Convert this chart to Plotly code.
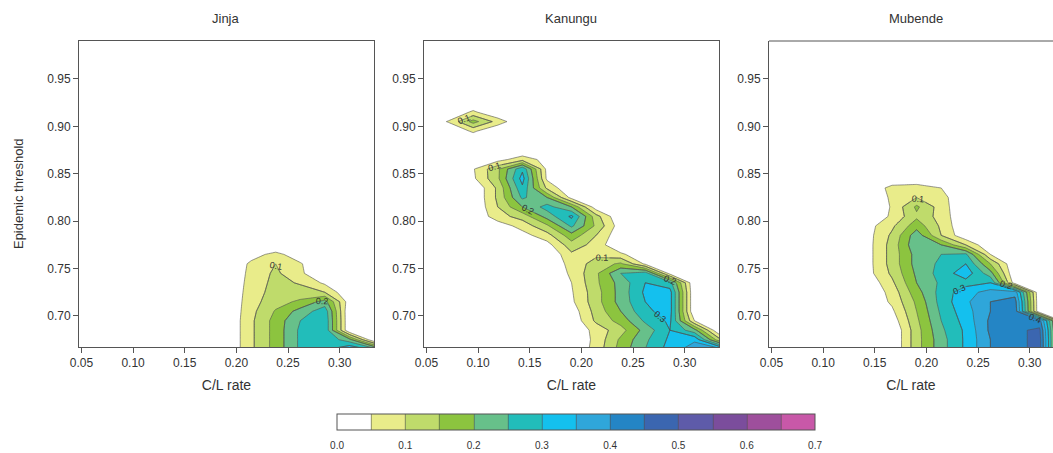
import plotly.graph_objects as go

# ---------------- data ----------------
panel_names = ["Jinja", "Kanungu", "Mubende"]

x_cl = [0.0476, 0.0714, 0.0952, 0.1190, 0.1429, 0.1667, 0.1905,
        0.2143, 0.2381, 0.2619, 0.2857, 0.3095, 0.3333]

y_thr = [0.665, 0.675, 0.685, 0.695, 0.705, 0.715, 0.725, 0.735, 0.745,
         0.755, 0.765, 0.775, 0.785, 0.795, 0.805, 0.815, 0.825, 0.835,
         0.845, 0.855, 0.865, 0.875, 0.885, 0.895, 0.905, 0.915, 0.925,
         0.935, 0.945, 0.955, 0.965, 0.975, 0.985, 0.995]

jinja_z = [
    [0, 0, 0, 0, 0, 0, 0, 0.09, 0.17, 0.26, 0.29, 0.35, 0.28],
    [0, 0, 0, 0, 0, 0, 0, 0.09, 0.17, 0.26, 0.29, 0.22, 0],
    [0, 0, 0, 0, 0, 0, 0, 0.09, 0.17, 0.26, 0.29, 0, 0],
    [0, 0, 0, 0, 0, 0, 0, 0.09, 0.17, 0.25, 0.29, 0, 0],
    [0, 0, 0, 0, 0, 0, 0, 0.085, 0.155, 0.22, 0.28, 0, 0],
    [0, 0, 0, 0, 0, 0, 0, 0.08, 0.13, 0.16, 0.22, 0.02, 0],
    [0, 0, 0, 0, 0, 0, 0, 0.075, 0.12, 0.12, 0.10, 0, 0],
    [0, 0, 0, 0, 0, 0, 0, 0.07, 0.115, 0.095, 0.04, 0, 0],
    [0, 0, 0, 0, 0, 0, 0, 0.065, 0.11, 0.06, 0, 0, 0],
    [0, 0, 0, 0, 0, 0, 0, 0.06, 0.10, 0.055, 0, 0, 0],
    [0, 0, 0, 0, 0, 0, 0, 0.03, 0.065, 0.02, 0, 0, 0],
    [0, 0, 0, 0, 0, 0, 0, 0, 0, 0, 0, 0, 0],
    [0, 0, 0, 0, 0, 0, 0, 0, 0, 0, 0, 0, 0],
    [0, 0, 0, 0, 0, 0, 0, 0, 0, 0, 0, 0, 0],
    [0, 0, 0, 0, 0, 0, 0, 0, 0, 0, 0, 0, 0],
    [0, 0, 0, 0, 0, 0, 0, 0, 0, 0, 0, 0, 0],
    [0, 0, 0, 0, 0, 0, 0, 0, 0, 0, 0, 0, 0],
    [0, 0, 0, 0, 0, 0, 0, 0, 0, 0, 0, 0, 0],
    [0, 0, 0, 0, 0, 0, 0, 0, 0, 0, 0, 0, 0],
    [0, 0, 0, 0, 0, 0, 0, 0, 0, 0, 0, 0, 0],
    [0, 0, 0, 0, 0, 0, 0, 0, 0, 0, 0, 0, 0],
    [0, 0, 0, 0, 0, 0, 0, 0, 0, 0, 0, 0, 0],
    [0, 0, 0, 0, 0, 0, 0, 0, 0, 0, 0, 0, 0],
    [0, 0, 0, 0, 0, 0, 0, 0, 0, 0, 0, 0, 0],
    [0, 0, 0, 0, 0, 0, 0, 0, 0, 0, 0, 0, 0],
    [0, 0, 0, 0, 0, 0, 0, 0, 0, 0, 0, 0, 0],
    [0, 0, 0, 0, 0, 0, 0, 0, 0, 0, 0, 0, 0],
    [0, 0, 0, 0, 0, 0, 0, 0, 0, 0, 0, 0, 0],
    [0, 0, 0, 0, 0, 0, 0, 0, 0, 0, 0, 0, 0],
    [0, 0, 0, 0, 0, 0, 0, 0, 0, 0, 0, 0, 0],
    [0, 0, 0, 0, 0, 0, 0, 0, 0, 0, 0, 0, 0],
    [0, 0, 0, 0, 0, 0, 0, 0, 0, 0, 0, 0, 0],
    [0, 0, 0, 0, 0, 0, 0, 0, 0, 0, 0, 0, 0],
    [0, 0, 0, 0, 0, 0, 0, 0, 0, 0, 0, 0, 0],
]

kanungu_z = [
    [0, 0, 0, 0, 0, 0, 0, 0.07, 0.17, 0.25, 0.32, 0.38, 0.38],
    [0, 0, 0, 0, 0, 0, 0, 0.065, 0.16, 0.24, 0.31, 0.34, 0.12],
    [0, 0, 0, 0, 0, 0, 0, 0.07, 0.13, 0.22, 0.30, 0.22, 0],
    [0, 0, 0, 0, 0, 0, 0.01, 0.11, 0.17, 0.26, 0.31, 0.05, 0],
    [0, 0, 0, 0, 0, 0, 0.02, 0.12, 0.20, 0.29, 0.32, 0, 0],
    [0, 0, 0, 0, 0, 0, 0.04, 0.13, 0.22, 0.30, 0.32, 0, 0],
    [0, 0, 0, 0, 0, 0, 0.045, 0.13, 0.22, 0.31, 0.32, 0, 0],
    [0, 0, 0, 0, 0, 0, 0.05, 0.14, 0.22, 0.30, 0.27, 0, 0],
    [0, 0, 0, 0, 0, 0, 0.06, 0.14, 0.25, 0.28, 0.03, 0, 0],
    [0, 0, 0, 0, 0, 0, 0.07, 0.12, 0.16, 0.04, 0, 0, 0],
    [0, 0, 0, 0, 0, 0, 0.09, 0.09, 0.06, 0.01, 0, 0, 0],
    [0, 0, 0, 0, 0, 0.03, 0.13, 0.08, 0, 0, 0, 0, 0],
    [0, 0, 0, 0, 0.03, 0.08, 0.18, 0.10, 0.01, 0, 0, 0, 0],
    [0, 0, 0, 0.02, 0.07, 0.14, 0.26, 0.14, 0.02, 0, 0, 0, 0],
    [0, 0, 0, 0.08, 0.12, 0.22, 0.31, 0.12, 0, 0, 0, 0, 0],
    [0, 0, 0, 0.10, 0.20, 0.27, 0.20, 0.02, 0, 0, 0, 0, 0],
    [0, 0, 0, 0.11, 0.26, 0.20, 0.03, 0, 0, 0, 0, 0, 0],
    [0, 0, 0, 0.11, 0.29, 0.09, 0, 0, 0, 0, 0, 0, 0],
    [0, 0, 0.04, 0.14, 0.32, 0.04, 0, 0, 0, 0, 0, 0, 0],
    [0, 0, 0.045, 0.14, 0.29, 0.035, 0, 0, 0, 0, 0, 0, 0],
    [0, 0, 0, 0.03, 0.08, 0.03, 0, 0, 0, 0, 0, 0, 0],
    [0, 0, 0, 0, 0, 0, 0, 0, 0, 0, 0, 0, 0],
    [0, 0, 0, 0, 0, 0, 0, 0, 0, 0, 0, 0, 0],
    [0, 0, 0.06, 0, 0, 0, 0, 0, 0, 0, 0, 0, 0],
    [0, 0.055, 0.17, 0.08, 0, 0, 0, 0, 0, 0, 0, 0, 0],
    [0, 0, 0.06, 0, 0, 0, 0, 0, 0, 0, 0, 0, 0],
    [0, 0, 0, 0, 0, 0, 0, 0, 0, 0, 0, 0, 0],
    [0, 0, 0, 0, 0, 0, 0, 0, 0, 0, 0, 0, 0],
    [0, 0, 0, 0, 0, 0, 0, 0, 0, 0, 0, 0, 0],
    [0, 0, 0, 0, 0, 0, 0, 0, 0, 0, 0, 0, 0],
    [0, 0, 0, 0, 0, 0, 0, 0, 0, 0, 0, 0, 0],
    [0, 0, 0, 0, 0, 0, 0, 0, 0, 0, 0, 0, 0],
    [0, 0, 0, 0, 0, 0, 0, 0, 0, 0, 0, 0, 0],
    [0, 0, 0, 0, 0, 0, 0, 0, 0, 0, 0, 0, 0],
]

mubende_z = [
    [0, 0, 0, 0, 0, 0, 0.13, 0.23, 0.31, 0.40, 0.43, 0.47, 0],
    [0, 0, 0, 0, 0, 0, 0.13, 0.23, 0.31, 0.40, 0.43, 0.47, 0],
    [0, 0, 0, 0, 0, 0, 0.13, 0.24, 0.31, 0.41, 0.44, 0.46, 0],
    [0, 0, 0, 0, 0, 0.02, 0.14, 0.25, 0.32, 0.41, 0.44, 0.42, 0],
    [0, 0, 0, 0, 0, 0.04, 0.15, 0.26, 0.33, 0.40, 0.43, 0, 0],
    [0, 0, 0, 0, 0, 0.06, 0.16, 0.27, 0.34, 0.40, 0.42, 0, 0],
    [0, 0, 0, 0, 0, 0.07, 0.18, 0.27, 0.33, 0.37, 0.38, 0, 0],
    [0, 0, 0, 0, 0.01, 0.09, 0.20, 0.26, 0.28, 0.30, 0.02, 0, 0],
    [0, 0, 0, 0, 0.03, 0.11, 0.21, 0.27, 0.33, 0.22, 0, 0, 0],
    [0, 0, 0, 0, 0.03, 0.12, 0.22, 0.26, 0.30, 0.15, 0, 0, 0],
    [0, 0, 0, 0, 0.03, 0.12, 0.22, 0.25, 0.26, 0.05, 0, 0, 0],
    [0, 0, 0, 0, 0.03, 0.12, 0.24, 0.20, 0.10, 0, 0, 0, 0],
    [0, 0, 0, 0, 0.03, 0.11, 0.23, 0.10, 0.01, 0, 0, 0, 0],
    [0, 0, 0, 0, 0.03, 0.09, 0.18, 0.09, 0, 0, 0, 0, 0],
    [0, 0, 0, 0, 0, 0.06, 0.14, 0.08, 0, 0, 0, 0, 0],
    [0, 0, 0, 0, 0, 0.055, 0.16, 0.075, 0, 0, 0, 0, 0],
    [0, 0, 0, 0, 0, 0.06, 0.10, 0.07, 0, 0, 0, 0, 0],
    [0, 0, 0, 0, 0, 0.07, 0.08, 0.05, 0, 0, 0, 0, 0],
    [0, 0, 0, 0, 0, 0, 0, 0, 0, 0, 0, 0, 0],
    [0, 0, 0, 0, 0, 0, 0, 0, 0, 0, 0, 0, 0],
    [0, 0, 0, 0, 0, 0, 0, 0, 0, 0, 0, 0, 0],
    [0, 0, 0, 0, 0, 0, 0, 0, 0, 0, 0, 0, 0],
    [0, 0, 0, 0, 0, 0, 0, 0, 0, 0, 0, 0, 0],
    [0, 0, 0, 0, 0, 0, 0, 0, 0, 0, 0, 0, 0],
    [0, 0, 0, 0, 0, 0, 0, 0, 0, 0, 0, 0, 0],
    [0, 0, 0, 0, 0, 0, 0, 0, 0, 0, 0, 0, 0],
    [0, 0, 0, 0, 0, 0, 0, 0, 0, 0, 0, 0, 0],
    [0, 0, 0, 0, 0, 0, 0, 0, 0, 0, 0, 0, 0],
    [0, 0, 0, 0, 0, 0, 0, 0, 0, 0, 0, 0, 0],
    [0, 0, 0, 0, 0, 0, 0, 0, 0, 0, 0, 0, 0],
    [0, 0, 0, 0, 0, 0, 0, 0, 0, 0, 0, 0, 0],
    [0, 0, 0, 0, 0, 0, 0, 0, 0, 0, 0, 0, 0],
    [0, 0, 0, 0, 0, 0, 0, 0, 0, 0, 0, 0, 0],
    [0, 0, 0, 0, 0, 0, 0, 0, 0, 0, 0, 0, 0],
]

panel_z = [jinja_z, kanungu_z, mubende_z]

level_colors = ["#FFFFFF", "#E9EC8A", "#BFDB6B", "#8CC43F", "#67C08A",
                "#22BDBA", "#14C0EE", "#2FA6DA", "#2485C5", "#3B66B0",
                "#5E5BA9", "#7B4D9C", "#9E4F9C", "#C858A8"]

x_ticks = [0.05, 0.10, 0.15, 0.20, 0.25, 0.30]
y_ticks = [0.70, 0.75, 0.80, 0.85, 0.90, 0.95]
cbar_ticks = [0.0, 0.1, 0.2, 0.3, 0.4, 0.5, 0.6, 0.7]

# ---------------- figure ----------------
FONT = "Liberation Sans, Arial, Helvetica, sans-serif"
n_lv = len(level_colors) - 1
colorscale = [[k / n_lv, c] for k, c in enumerate(level_colors)]

x_domains = [[0.0, 0.3029], [0.3542, 0.6571], [0.7084, 1.0]]
x_ranges = [[0.0476, 0.3333], [0.0476, 0.3333], [0.0476, 0.3225]]
y_range = [0.6673, 0.990]

fig = go.Figure()
for i, z in enumerate(panel_z):
    ax = "" if i == 0 else str(i + 1)
    fig.add_trace(go.Contour(
        x=x_cl, y=y_thr, z=z,
        colorscale=colorscale, zmin=0.0, zmax=0.7, zauto=False,
        contours=dict(start=0.05, end=0.65, size=0.05, coloring="fill",
                      showlines=True),
        line=dict(color="#505050", width=0.6, smoothing=0),
        showscale=(i == 0),
        colorbar=dict(orientation="h", x=0.5103, xanchor="center",
                      y=-0.2795, yanchor="middle", len=478, lenmode="pixels",
                      thickness=16, outlinecolor="#555555", outlinewidth=1,
                      tickvals=cbar_ticks,
                      ticktext=[f"{v:.1f}" for v in cbar_ticks],
                      tickfont=dict(size=10, color="#333333", family=FONT),
                      ticks="outside", ticklen=7,
                      tickcolor="rgba(0,0,0,0)", xpad=0, ypad=0),
        hoverinfo="skip",
        xaxis="x" + ax, yaxis="y" + ax,
    ))
    fig.add_trace(go.Contour(
        x=x_cl, y=y_thr, z=z,
        contours=dict(start=0.1, end=0.6, size=0.1, coloring="none",
                      showlabels=True,
                      labelfont=dict(size=9, color="#333333", family=FONT)),
        line=dict(color="#505050", width=0.6, smoothing=0),
        showscale=False, hoverinfo="skip",
        xaxis="x" + ax, yaxis="y" + ax,
    ))

layout = dict(
    width=1053, height=453,
    margin=dict(l=79, r=0, t=41, b=106),
    paper_bgcolor="white", plot_bgcolor="white",
    font=dict(family=FONT, color="#333333", size=12),
    showlegend=False,
)
for i in range(3):
    ax = "" if i == 0 else str(i + 1)
    mirror = i < 2
    layout["xaxis" + ax] = dict(
        domain=x_domains[i], range=x_ranges[i], anchor="y" + ax,
        tickvals=x_ticks, ticktext=[f"{v:.2f}" for v in x_ticks],
        ticks="outside", ticklen=5, tickcolor="#555555",
        showline=True, linecolor="#555555", linewidth=1, mirror=mirror,
        showgrid=False, zeroline=False,
        tickfont=dict(size=12, color="#333333"),
        title=dict(text="C/L rate", font=dict(size=14, color="#333333"),
                   standoff=10),
    )
    layout["yaxis" + ax] = dict(
        domain=[0, 1], range=y_range, anchor="x" + ax,
        tickvals=y_ticks, ticktext=[f"{v:.2f}" for v in y_ticks],
        ticks="outside", ticklen=5, tickcolor="#555555",
        showline=True, linecolor="#555555", linewidth=1, mirror=mirror,
        showgrid=False, zeroline=False,
        tickfont=dict(size=12, color="#333333"),
    )
fig.update_layout(**layout)

fig.add_shape(type="line", xref="x3 domain", yref="y3 domain",
              x0=0, x1=1, y0=1, y1=1,
              line=dict(color="#555555", width=1))

title_x = [0.1509, 0.5051, 0.8593]
for name, tx in zip(panel_names, title_x):
    fig.add_annotation(text=name, x=tx, y=1.075, xref="paper", yref="paper",
                       showarrow=False, font=dict(size=13, color="#333333"),
                       xanchor="center", yanchor="middle")
fig.add_annotation(text="Epidemic threshold", x=-0.0626, y=0.5,
                   xref="paper", yref="paper", showarrow=False,
                   textangle=-90, font=dict(size=13, color="#333333"),
                   xanchor="center", yanchor="middle")

fig.write_html("out.html", config={"displayModeBar": False},
               post_script="document.body.style.margin='0px';")
